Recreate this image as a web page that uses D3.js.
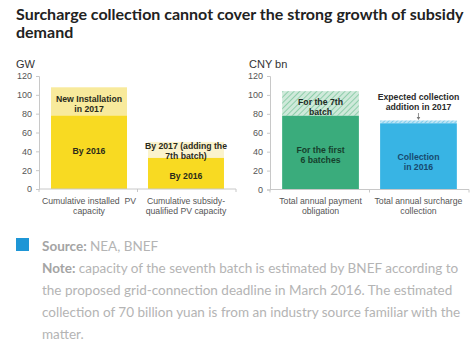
<!DOCTYPE html>
<html><head><meta charset="utf-8">
<script src="https://cdn.jsdelivr.net/npm/d3@7"></script>
<style>
body{margin:0;background:#fff;}
svg{display:block;}
</style></head>
<body>
<svg id="c" width="474" height="349"></svg>
<script>
// ---- data ----
const leftCategories = ["Cumulative installed  PV|capacity", "Cumulative subsidy-|qualified PV capacity"];
const leftBase = [78, 33];      // GW by 2016
const leftAdd = [30, 17];       // GW new in 2017 / 7th batch
const leftBaseLabels = ["By 2016", "By 2016"];
const leftAddLabels = ["New Installation|in 2017", "By 2017 (adding the|7th batch)"];

const rightCategories = ["Total annual payment|obligation", "Total annual surcharge|collection"];
const rightBase = [78, 70];     // CNY bn
const rightAdd = [26, 3];
const rightBaseLabels = ["For the first|6 batches", "Collection|in 2016"];
const rightAddLabels = ["For the 7th|batch", "Expected collection|addition in 2017"];

const yTicks = [0, 20, 40, 60, 80, 100, 120];

const svg = d3.select("#c");
const defs = svg.append("defs");
const pg = defs.append("pattern").attr("id","hatchG").attr("patternUnits","userSpaceOnUse")
  .attr("width",4).attr("height",4).attr("patternTransform","rotate(45)");
pg.append("rect").attr("width",4).attr("height",4).attr("fill","#cfe9da");
pg.append("line").attr("x1",0).attr("y1",0).attr("x2",0).attr("y2",4).attr("stroke","#6cbf92").attr("stroke-width",1.3);
const pb = defs.append("pattern").attr("id","hatchB").attr("patternUnits","userSpaceOnUse")
  .attr("width",3).attr("height",3).attr("patternTransform","rotate(45)");
pb.append("rect").attr("width",3).attr("height",3).attr("fill","#bfe5f5");
pb.append("line").attr("x1",0).attr("y1",0).attr("x2",0).attr("y2",3).attr("stroke","#55bde6").attr("stroke-width",1.2);

// Title
const title = svg.append("g").attr("font-family","Lato, 'Open Sans', sans-serif").attr("font-weight","700")
  .attr("font-size",16).attr("fill","#222");
title.append("text").attr("x",16).attr("y",19.5).text("Surcharge collection cannot cover the strong growth of subsidy");
title.append("text").attr("x",16).attr("y",38).text("demand");

function drawChart(opt){
  const g = svg.append("g");
  const y = d3.scaleLinear().domain([0,120]).range([opt.y0, opt.y1]);
  const x = d3.scaleBand().domain(opt.cats).range([opt.xL, opt.xR]).paddingInner(0.2165).paddingOuter(0.124);
  // unit label
  g.append("text").attr("x",opt.unitX).attr("y",67.5).attr("font-family","Liberation Sans, Arial, sans-serif")
   .attr("font-size",11).attr("fill","#333").text(opt.unit);
  // y axis
  const ya = g.append("g").attr("transform",`translate(${opt.xL},0)`)
    .call(d3.axisLeft(y).tickValues(yTicks).tickSize(3).tickPadding(4));
  ya.select(".domain").attr("stroke","#c8c8c8");
  ya.selectAll(".tick line").attr("stroke","#c8c8c8");
  ya.selectAll(".tick text").attr("font-family","Liberation Sans, Arial, sans-serif").attr("font-size",9).attr("fill","#555");
  // bars
  const bars = g.selectAll(".bar").data(opt.cats).enter().append("g");
  bars.append("rect").attr("x",d=>x(d)).attr("width",x.bandwidth())
    .attr("y",(d,i)=>y(opt.base[i]+opt.add[i])).attr("height",(d,i)=>y(0)-y(opt.add[i]))
    .attr("fill",(d,i)=>opt.addFill[i]);
  bars.append("rect").attr("x",d=>x(d)).attr("width",x.bandwidth())
    .attr("y",(d,i)=>y(opt.base[i])).attr("height",(d,i)=>y(0)-y(opt.base[i]))
    .attr("fill",(d,i)=>opt.baseFill[i]);
  // x axis
  g.append("line").attr("x1",opt.xL).attr("x2",opt.xR).attr("y1",y(0)).attr("y2",y(0)).attr("stroke","#c8c8c8");
  const bounds = [opt.xL, (x(opt.cats[0])+x.bandwidth()+x(opt.cats[1]))/2, opt.xR];
  g.selectAll(".xt").data(bounds).enter().append("line").attr("x1",d=>d).attr("x2",d=>d)
    .attr("y1",y(0)).attr("y2",y(0)+3).attr("stroke","#c8c8c8");
  // category labels
  opt.cats.forEach((c,i)=>{
    c.split("|").forEach((ln,j)=>{
      g.append("text").attr("x",x(c)+x.bandwidth()/2).attr("y",y(0)+14.5+j*10.3).attr("text-anchor","middle")
       .attr("font-family","Liberation Sans, Arial, sans-serif").attr("font-size",8.7).attr("fill","#555").attr("xml:space","preserve").text(ln);
    });
  });
  // in-bar labels
  function lbl(text, cx, yb, fill){
    text.split("|").forEach((ln,j)=>{
      g.append("text").attr("x",cx).attr("y",yb+j*10).attr("text-anchor","middle")
       .attr("font-family","Liberation Sans, Arial, sans-serif").attr("font-weight","700").attr("font-size",8.7)
       .attr("fill",fill).text(ln);
    });
  }
  opt.cats.forEach((c,i)=>{
    const cx = x(c)+x.bandwidth()/2;
    lbl(opt.baseLabels[i], cx, opt.baseLabelY[i], opt.baseText[i]);
    lbl(opt.addLabels[i], cx, opt.addLabelY[i], opt.addText[i]);
  });
  return {x,y,g};
}

drawChart({cats:leftCategories, base:leftBase, add:leftAdd, baseLabels:leftBaseLabels, addLabels:leftAddLabels,
  y0:189, y1:76, xL:39, xR:236, unit:"GW", unitX:16,
  baseFill:["#f8da22","#f8da22"], addFill:["#f8ea9c","#fbf3cc"], baseText:["#2a2a1a","#2a2a1a"], addText:["#2a2a1a","#2a2a1a"],
  baseLabelY:[153.5,178.5], addLabelY:[101.5,148.5]});

const R = drawChart({cats:rightCategories, base:rightBase, add:rightAdd, baseLabels:rightBaseLabels, addLabels:rightAddLabels,
  y0:189.5, y1:76, xL:270, xR:469, unit:"CNY bn", unitX:249,
  baseFill:["#3aac7c","#38b4e4"], addFill:["url(#hatchG)","url(#hatchB)"], baseText:["#16402c","#174a6e"], addText:["#1e2a24","#2a2a2a"],
  baseLabelY:[152.5,159.5], addLabelY:[105,100]});
// small arrow
const cx2 = R.x(rightCategories[1]) + R.x.bandwidth()/2;
R.g.append("line").attr("x1",cx2).attr("x2",cx2).attr("y1",113).attr("y2",118.5).attr("stroke","#777").attr("stroke-width",0.8);
R.g.append("path").attr("d",`M${cx2-1.8},117 L${cx2+1.8},117 L${cx2},120 Z`).attr("fill","#777");

// Footer
svg.append("rect").attr("x",16).attr("y",238).attr("width",13).attr("height",13).attr("fill","#1e96d6");
const ft = svg.append("g").attr("font-family","Lato, 'Open Sans', sans-serif").attr("font-size",13.5).attr("fill","#b4b4b4");
const src = ft.append("text").attr("x",42).attr("y",251);
src.append("tspan").attr("font-weight","700").attr("fill","#a4a4a4").text("Source: ");
src.append("tspan").text("NEA, BNEF");
const noteLines = ["capacity of the seventh batch is estimated by BNEF according to",
  "the proposed grid-connection deadline in March 2016. The estimated",
  "collection of 70 billion yuan is from an industry source familiar with the",
  "matter."];
noteLines.forEach((ln,j)=>{
  const t = ft.append("text").attr("x",42).attr("y",273+j*22);
  if(j===0){ t.append("tspan").attr("font-weight","700").attr("fill","#a4a4a4").text("Note: "); }
  t.append("tspan").text(ln);
});
</script>
</body></html>
